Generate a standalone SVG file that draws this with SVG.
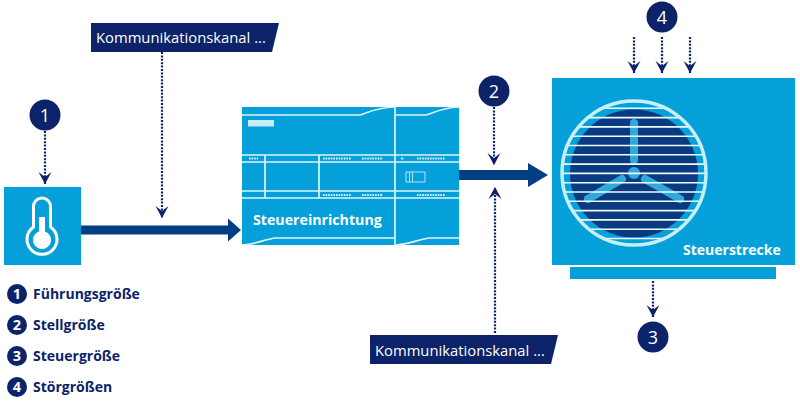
<svg xmlns="http://www.w3.org/2000/svg" width="800" height="401" viewBox="0 0 800 401">
<style>
.blue{fill:#059fda}
.num{font-family:"Open Sans","Liberation Sans",sans-serif;font-size:18px;fill:#fff;text-anchor:middle}
.disc{fill:#0c2269}
.lnum{font-family:"Open Sans","Liberation Sans",sans-serif;font-size:14.500px;font-weight:700;fill:#fff;text-anchor:middle}
.leg{font-family:"Open Sans","Liberation Sans",sans-serif;font-size:14px;font-weight:700;fill:#0c2269}
.dot{fill:none;stroke:#0c2269;stroke-width:2.200;stroke-dasharray:2 1.400;marker-end:url(#chev)}
.wl{fill:none;stroke:#dff5fc;stroke-width:1.700}
.led{stroke:#e4f7fd;stroke-width:2.200;stroke-dasharray:1.600 1;fill:none}
.bar{fill:#003f83}
.kk{font-family:"Open Sans","Liberation Sans",sans-serif;font-size:14.800px;fill:#fff}
.nb{font-family:"Open Sans","Liberation Sans",sans-serif;font-weight:700;fill:#fff}
.grille{stroke:#eefbff;stroke-width:1.600}
.blade{stroke:#2fa9dc;stroke-width:8;stroke-linecap:round;fill:none}
</style>
<defs>
<marker id="chev" markerUnits="userSpaceOnUse" markerWidth="16" markerHeight="16" viewBox="0 0 16 16" refX="13" refY="8" orient="auto">
<path d="M13 8L1 1.500L6 8L1 14.500Z" fill="#0c2269"/>
</marker>
</defs>
<rect width="800" height="401" fill="#fff"/>

<g id="connectors">
<path class="bar" d="M81 225.500H228V218.500L241 230L228 241.500V234.500H81Z"/>
<path class="bar" d="M459 170H528V163L548 175L528 187V180H459Z"/>
<path class="dot" d="M162 52V218"/>
<path class="dot" d="M45 131V184"/>
<path class="dot" d="M494 107V165"/>
<path class="dot" d="M495 333V187"/>
<path class="dot" d="M634 37V73"/>
<path class="dot" d="M662 37V73"/>
<path class="dot" d="M690 37V73"/>
<path class="dot" d="M653 281V317"/>
</g>

<g id="sensor">
<rect class="blue" x="4" y="187" width="77" height="78"/>
<path d="M33.500 227V206.500a8.500 8.500 0 0 1 17 0V227a15 15 0 1 1-17 0Z" fill="none" stroke="#fff" stroke-width="3"/>
<path d="M39 217H45V231.500a9 9 0 1 1-6 0Z" fill="#fff"/>
</g>

<g id="controller">
<rect class="blue" x="242" y="107" width="217" height="138"/>
<path class="wl" d="M242 115H360C370 112 375 108 394 107M396 115H426C436 112 441 108 459 107"/>
<path class="wl" d="M242 245C258 244 265 239 276 238H395M396 245C412 244 419 239 430 238H459"/>
<path class="wl" d="M242 155H459M242 162H459M242 191H459M242 198H459"/>
<path class="wl" d="M395 107V245M265 155V198M319 155V198"/>
<rect x="248" y="120" width="26" height="6.500" fill="#c9ecf8"/>
<path class="led" d="M249 158.500H258M323 158.500H351M362 158.500H383M401 158.500H404M417 158.500H445M323 195H351M362 195H383M417 195H445"/>
<path d="M406 172H425V182H406ZM409.500 172V182M412.500 172V182" fill="none" stroke="#b5e4f5" stroke-width="1"/>
<text class="nb" x="253" y="225" font-size="14.200">Steuereinrichtung</text>
</g>

<g id="plant">
<rect class="blue" x="552" y="78" width="243" height="187"/>
<rect class="blue" x="570" y="267" width="206" height="12"/>
<circle cx="634" cy="173.500" r="64" fill="#0a3a80"/>
<path class="blade" d="M634 123V160M588 199L622 179M680 199L645 179"/>
<circle cx="634" cy="173" r="6" fill="#2fa9dc"/>
<path class="grille" d="M602.400 108.300H665.600M588 117.600H680M578.700 126.900H689.300M572.100 136.200H695.900M567.500 145.500H700.500M564.300 154.800H703.700M562.600 164.100H705.400M562 173.400H706M562.700 182.700H705.300M564.600 192H703.400M567.800 201.300H700.200M572.500 210.600H695.500M579.400 219.900H688.600M589 229.200H679M604.200 238.500H663.800"/>
<circle cx="634" cy="173" r="72" fill="none" stroke="#c4effb" stroke-width="3.500"/>
<text class="nb" x="683" y="255" font-size="14">Steuerstrecke</text>
</g>

<g id="channel-a">
<path d="M91 23H279L272 52H91Z" fill="#0c2269"/>
<text class="kk" x="96" y="43">Kommunikationskanal ...</text>
</g>
<g id="channel-b">
<path d="M370 335H558L551 364H370Z" fill="#0c2269"/>
<text class="kk" x="375" y="356">Kommunikationskanal ...</text>
</g>

<g id="n1"><circle class="disc" cx="45" cy="115" r="15.500"/><text class="num" x="45" y="121.500">1</text></g>
<g id="n2"><circle class="disc" cx="494" cy="91" r="15.500"/><text class="num" x="494" y="97.500">2</text></g>
<g id="n3"><circle class="disc" cx="653" cy="337" r="15.500"/><text class="num" x="653" y="343.500">3</text></g>
<g id="n4"><circle class="disc" cx="662" cy="17" r="15.500"/><text class="num" x="662" y="23.500">4</text></g>

<g id="legend">
<circle class="disc" cx="17" cy="294" r="10"/><text class="lnum" x="17" y="299">1</text><text class="leg" x="33" y="299">Führungsgröße</text>
<circle class="disc" cx="17" cy="325" r="10"/><text class="lnum" x="17" y="330">2</text><text class="leg" x="33" y="330">Stellgröße</text>
<circle class="disc" cx="17" cy="356" r="10"/><text class="lnum" x="17" y="361">3</text><text class="leg" x="33" y="361">Steuergröße</text>
<circle class="disc" cx="17" cy="387" r="10"/><text class="lnum" x="17" y="392">4</text><text class="leg" x="33" y="392">Störgrößen</text>
</g>
</svg>
